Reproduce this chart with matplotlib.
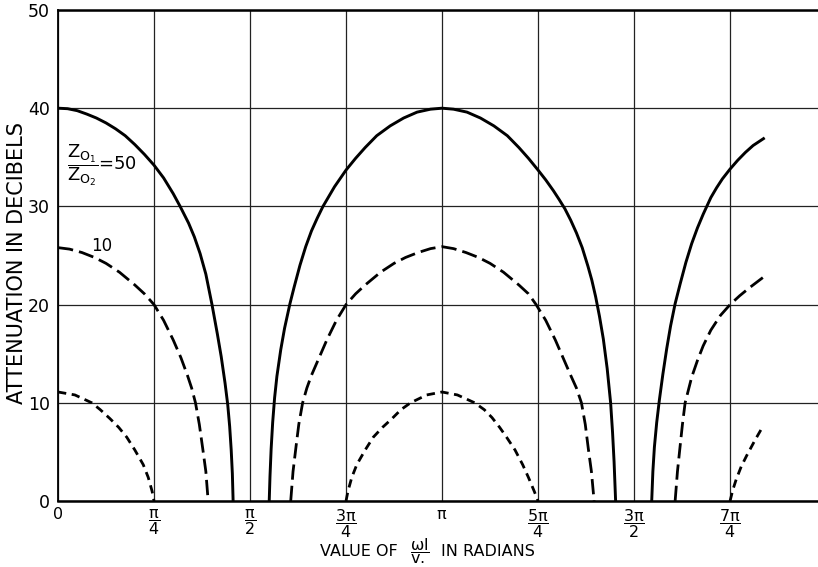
import numpy as np
import matplotlib
matplotlib.use("Agg")
import matplotlib.pyplot as plt

plt.rcParams.update({"font.family": "DejaVu Sans", "mathtext.fontset": "dejavusans",
                     "mathtext.default": "regular"})

# x values in multiples of pi, y in decibels; NaN separates the branches
r50_x = [0, 0.025, 0.05, 0.075, 0.1, 0.125, 0.15, 0.175, 0.2, 0.225, 0.25, 0.275, 0.3, 0.318,
         0.34, 0.355, 0.37, 0.385, 0.401, 0.415, 0.425, 0.435, 0.442, 0.447, 0.451, 0.454, 0.456, np.nan,
         0.550, 0.552, 0.555, 0.559, 0.564, 0.57, 0.58, 0.59, 0.604, 0.615, 0.63, 0.645, 0.66,
         0.675, 0.69, 0.72, 0.75, 0.775, 0.8, 0.83, 0.865, 0.9, 0.935, 0.97, 1.0,
         1.03, 1.065, 1.1, 1.135, 1.17, 1.2, 1.225, 1.25, 1.27, 1.29, 1.305, 1.32, 1.335, 1.35,
         1.365, 1.38, 1.39, 1.40, 1.41, 1.42, 1.43, 1.439, 1.444, 1.448, 1.452, np.nan,
         1.546, 1.549, 1.553, 1.559, 1.566, 1.575, 1.585, 1.595, 1.607, 1.62, 1.635, 1.65, 1.665,
         1.68, 1.70, 1.715, 1.73, 1.75, 1.77, 1.79, 1.81, 1.837]
r50_y = [40, 39.95, 39.75, 39.4, 39.0, 38.5, 37.9, 37.2, 36.3, 35.3, 34.2, 32.9, 31.3, 30,
         28.3, 26.9, 25.2, 23.1, 20, 17.0, 14.7, 12.0, 9.8, 7.6, 5.2, 2.8, 0, np.nan,
         0, 2.5, 5.3, 8, 10.5, 12.7, 15.4, 17.6, 20.1, 21.8, 24.0, 25.9, 27.5,
         28.8, 30, 32.0, 33.7, 34.9, 36.0, 37.2, 38.2, 39.0, 39.6, 39.9, 40,
         39.9, 39.6, 39.0, 38.2, 37.2, 36.0, 34.9, 33.7, 32.7, 31.6, 30.7, 29.75, 28.6, 27.3,
         25.8, 23.9, 22.5, 20.8, 18.8, 16.5, 13.5, 10, 7, 4, 0, np.nan,
         0, 3, 5.5, 8, 10.3, 12.9, 15.5, 17.8, 20.1, 22.1, 24.3, 26.2, 27.8,
         29.2, 30.9, 31.9, 32.8, 33.8, 34.7, 35.5, 36.2, 36.9]

r10_x = [0, 0.03, 0.0625, 0.095, 0.125, 0.16, 0.2, 0.225, 0.25, 0.275, 0.3, 0.32, 0.337,
         0.348, 0.358, 0.368, 0.377, 0.385, 0.391, np.nan,
         0.606, 0.612, 0.62, 0.627, 0.637, 0.648, 0.66, 0.68, 0.70, 0.725, 0.75, 0.775, 0.8, 0.84,
         0.875, 0.905, 0.9375, 0.97, 1.0, 1.03, 1.0625, 1.095, 1.125, 1.16, 1.2, 1.225, 1.245,
         1.27, 1.295, 1.315, 1.335, 1.35, 1.363, 1.373, 1.381, 1.389, 1.396, np.nan,
         1.607, 1.613, 1.62, 1.626, 1.633, 1.65, 1.665, 1.68, 1.7, 1.725, 1.75, 1.775, 1.8, 1.837]
r10_y = [25.8, 25.65, 25.3, 24.8, 24.2, 23.3, 22.0, 21.1, 20.0, 18.4, 16.4, 14.6, 12.8,
         11.5, 10.0, 7.8, 5.3, 3.0, 0, np.nan,
         0, 3, 5.6, 7.8, 10.0, 11.5, 12.8, 14.6, 16.4, 18.4, 20, 21.1, 22.0, 23.3,
         24.2, 24.8, 25.3, 25.7, 25.9, 25.7, 25.3, 24.8, 24.2, 23.3, 22.0, 21.1, 20,
         18.4, 16.4, 14.6, 12.8, 11.5, 10, 7.8, 5.3, 3, 0, np.nan,
         0, 3, 5.6, 7.8, 10, 12.6, 14.3, 15.8, 17.4, 18.9, 20, 20.9, 21.7, 22.8]

r2_x = [0, 0.044, 0.088, 0.11, 0.135, 0.158, 0.179, 0.2, 0.222, 0.235, 0.245, 0.25, np.nan,
        0.75, 0.755, 0.765, 0.778, 0.8, 0.821, 0.845, 0.87, 0.893, 0.918, 0.96, 1.0, 1.04,
        1.085, 1.11, 1.13, 1.15, 1.168, 1.19, 1.21, 1.225, 1.24, 1.25, np.nan,
        1.75, 1.757, 1.766, 1.779, 1.793, 1.815, 1.837]
r2_y = [11.1, 10.8, 10.0, 9.3, 8.4, 7.5, 6.5, 5.2, 3.7, 2.4, 1.0, 0, np.nan,
        0, 1.0, 2.4, 3.7, 5.2, 6.5, 7.5, 8.4, 9.3, 10.0, 10.8, 11.1, 10.8,
        10.0, 9.3, 8.5, 7.5, 6.5, 5.2, 3.7, 2.4, 1.0, 0, np.nan,
        0, 1.1, 2.2, 3.5, 4.6, 6.2, 7.7]

tick_pos = [0, 0.25, 0.5, 0.75, 1.0, 1.25, 1.5, 1.75]
tick_lab = ["0", r"$\dfrac{\pi}{4}$", r"$\dfrac{\pi}{2}$", r"$\dfrac{3\pi}{4}$", r"$\pi$",
            r"$\dfrac{5\pi}{4}$", r"$\dfrac{3\pi}{2}$", r"$\dfrac{7\pi}{4}$"]
y_ticks = [0, 10, 20, 30, 40, 50]

fig = plt.figure(figsize=(8.18, 5.67), dpi=100)
ax = fig.add_axes([58 / 818, 1 - 501 / 567, 1 - 58 / 818, 491 / 567])

ax.plot(np.array(r50_x) * np.pi, r50_y, color="black", lw=2.1, zorder=3)
ax.plot(np.array(r10_x) * np.pi, r10_y, color="black", lw=2.0, ls=(0, (5.5, 2.2)), zorder=3)
ax.plot(np.array(r2_x) * np.pi, r2_y, color="black", lw=2.0, ls=(0, (3, 2)), zorder=3)

ax.set_xlim(0, 1.979 * np.pi)
ax.set_ylim(0, 50)
ax.set_xticks(np.array(tick_pos) * np.pi)
ax.set_xticklabels(tick_lab, fontsize=11.5)
ax.set_yticks(y_ticks)
ax.set_yticklabels([str(v) for v in y_ticks], fontsize=12.5)
ax.tick_params(length=0)
ax.tick_params(axis="x", pad=4)
ax.tick_params(axis="y", pad=6)
ax.grid(True, color="#222222", lw=0.9)
ax.set_axisbelow(True)
ax.spines["right"].set_visible(False)
for s in ("top", "bottom"):
    ax.spines[s].set_linewidth(1.8)
ax.spines["left"].set_linewidth(1.3)

fig.text(17 / 818, 1 - 263 / 567, "ATTENUATION IN DECIBELS", fontsize=15,
         rotation=90, ha="center", va="center")
# x-axis title in three pieces so the fraction can be sized on its own
ly = 1 - 552 / 567
fig.text(398 / 818, ly, "VALUE OF", fontsize=11.5, ha="right", va="center")
fig.text(420 / 818, 1 - 551 / 567, r"$\dfrac{\omega l}{v.}$", fontsize=11.5, ha="center", va="center")
fig.text(441 / 818, ly, "IN RADIANS", fontsize=11.5, ha="left", va="center")

ax.text(0.023 * np.pi, 34.2, r"$\dfrac{Z_{O_1}}{Z_{O_2}}$=50", fontsize=13, ha="left", va="center")
ax.text(0.115 * np.pi, 26.0, "10", fontsize=12, ha="center", va="center")

fig.savefig("out.png", dpi=100)
